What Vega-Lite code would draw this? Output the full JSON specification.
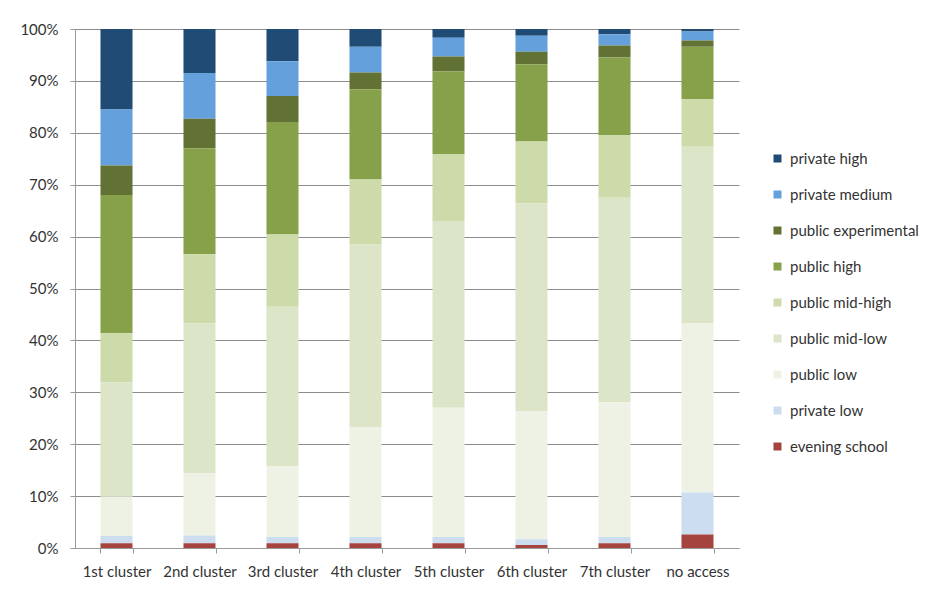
{
  "$schema": "https://vega.github.io/schema/vega-lite/v6.json",
  "width": 664,
  "height": 519,
  "autosize": {"type": "none"},
  "padding": {"left": 75, "top": 29, "right": 205, "bottom": 42},
  "background": "white",
  "data": {
    "values": [
      {"cluster": "1st cluster", "school": "private high", "share": 15.5},
      {"cluster": "1st cluster", "school": "private medium", "share": 10.8},
      {"cluster": "1st cluster", "school": "public experimental", "share": 5.7},
      {"cluster": "1st cluster", "school": "public high", "share": 26.6},
      {"cluster": "1st cluster", "school": "public mid-high", "share": 9.5},
      {"cluster": "1st cluster", "school": "public mid-low", "share": 22.0},
      {"cluster": "1st cluster", "school": "public low", "share": 7.6},
      {"cluster": "1st cluster", "school": "private low", "share": 1.4},
      {"cluster": "1st cluster", "school": "evening school", "share": 0.9},

      {"cluster": "2nd cluster", "school": "private high", "share": 8.5},
      {"cluster": "2nd cluster", "school": "private medium", "share": 8.8},
      {"cluster": "2nd cluster", "school": "public experimental", "share": 5.7},
      {"cluster": "2nd cluster", "school": "public high", "share": 20.4},
      {"cluster": "2nd cluster", "school": "public mid-high", "share": 13.3},
      {"cluster": "2nd cluster", "school": "public mid-low", "share": 28.9},
      {"cluster": "2nd cluster", "school": "public low", "share": 12.0},
      {"cluster": "2nd cluster", "school": "private low", "share": 1.5},
      {"cluster": "2nd cluster", "school": "evening school", "share": 0.9},

      {"cluster": "3rd cluster", "school": "private high", "share": 6.2},
      {"cluster": "3rd cluster", "school": "private medium", "share": 6.7},
      {"cluster": "3rd cluster", "school": "public experimental", "share": 5.0},
      {"cluster": "3rd cluster", "school": "public high", "share": 21.7},
      {"cluster": "3rd cluster", "school": "public mid-high", "share": 13.9},
      {"cluster": "3rd cluster", "school": "public mid-low", "share": 30.8},
      {"cluster": "3rd cluster", "school": "public low", "share": 13.6},
      {"cluster": "3rd cluster", "school": "private low", "share": 1.2},
      {"cluster": "3rd cluster", "school": "evening school", "share": 0.9},

      {"cluster": "4th cluster", "school": "private high", "share": 3.4},
      {"cluster": "4th cluster", "school": "private medium", "share": 5.0},
      {"cluster": "4th cluster", "school": "public experimental", "share": 3.2},
      {"cluster": "4th cluster", "school": "public high", "share": 17.4},
      {"cluster": "4th cluster", "school": "public mid-high", "share": 12.5},
      {"cluster": "4th cluster", "school": "public mid-low", "share": 35.2},
      {"cluster": "4th cluster", "school": "public low", "share": 21.2},
      {"cluster": "4th cluster", "school": "private low", "share": 1.2},
      {"cluster": "4th cluster", "school": "evening school", "share": 0.9},

      {"cluster": "5th cluster", "school": "private high", "share": 1.7},
      {"cluster": "5th cluster", "school": "private medium", "share": 3.6},
      {"cluster": "5th cluster", "school": "public experimental", "share": 2.9},
      {"cluster": "5th cluster", "school": "public high", "share": 15.9},
      {"cluster": "5th cluster", "school": "public mid-high", "share": 12.9},
      {"cluster": "5th cluster", "school": "public mid-low", "share": 36.0},
      {"cluster": "5th cluster", "school": "public low", "share": 24.9},
      {"cluster": "5th cluster", "school": "private low", "share": 1.2},
      {"cluster": "5th cluster", "school": "evening school", "share": 0.9},

      {"cluster": "6th cluster", "school": "private high", "share": 1.3},
      {"cluster": "6th cluster", "school": "private medium", "share": 3.1},
      {"cluster": "6th cluster", "school": "public experimental", "share": 2.4},
      {"cluster": "6th cluster", "school": "public high", "share": 14.9},
      {"cluster": "6th cluster", "school": "public mid-high", "share": 11.9},
      {"cluster": "6th cluster", "school": "public mid-low", "share": 40.0},
      {"cluster": "6th cluster", "school": "public low", "share": 24.7},
      {"cluster": "6th cluster", "school": "private low", "share": 1.1},
      {"cluster": "6th cluster", "school": "evening school", "share": 0.6},

      {"cluster": "7th cluster", "school": "private high", "share": 1.0},
      {"cluster": "7th cluster", "school": "private medium", "share": 2.2},
      {"cluster": "7th cluster", "school": "public experimental", "share": 2.3},
      {"cluster": "7th cluster", "school": "public high", "share": 14.9},
      {"cluster": "7th cluster", "school": "public mid-high", "share": 12.1},
      {"cluster": "7th cluster", "school": "public mid-low", "share": 39.4},
      {"cluster": "7th cluster", "school": "public low", "share": 26.0},
      {"cluster": "7th cluster", "school": "private low", "share": 1.2},
      {"cluster": "7th cluster", "school": "evening school", "share": 0.9},

      {"cluster": "no access", "school": "private high", "share": 0.5},
      {"cluster": "no access", "school": "private medium", "share": 1.7},
      {"cluster": "no access", "school": "public experimental", "share": 1.2},
      {"cluster": "no access", "school": "public high", "share": 10.1},
      {"cluster": "no access", "school": "public mid-high", "share": 9.2},
      {"cluster": "no access", "school": "public mid-low", "share": 34.0},
      {"cluster": "no access", "school": "public low", "share": 32.6},
      {"cluster": "no access", "school": "private low", "share": 8.1},
      {"cluster": "no access", "school": "evening school", "share": 2.6}
    ]
  },
  "transform": [
    {
      "calculate": "indexof(['evening school', 'private low', 'public low', 'public mid-low', 'public mid-high', 'public high', 'public experimental', 'private medium', 'private high'], datum.school)",
      "as": "stackRank"
    }
  ],
  "mark": {"type": "bar"},
  "encoding": {
    "x": {
      "field": "cluster",
      "type": "nominal",
      "sort": null,
      "scale": {"paddingInner": 0.614, "paddingOuter": 0.307},
      "axis": {
        "title": null,
        "labelAngle": 0,
        "tickBand": "extent",
        "ticks": true,
        "tickSize": 5,
        "tickColor": "#9a9a9a",
        "domainColor": "#9a9a9a",
        "labelPadding": 11,
        "grid": false
      }
    },
    "y": {
      "field": "share",
      "type": "quantitative",
      "stack": "normalize",
      "scale": {"domain": [0, 1], "nice": false},
      "axis": {
        "title": null,
        "format": ".0%",
        "values": [0, 0.1, 0.2, 0.3, 0.4, 0.5, 0.6, 0.7, 0.8, 0.9, 1.0],
        "tickSize": 5,
        "tickColor": "#9a9a9a",
        "domainColor": "#9a9a9a",
        "labelPadding": 12,
        "grid": true,
        "gridColor": "#8c8c8c",
        "gridWidth": 1
      }
    },
    "order": {"field": "stackRank", "type": "quantitative", "sort": "ascending"},
    "color": {
      "field": "school",
      "type": "nominal",
      "sort": ["private high", "private medium", "public experimental", "public high", "public mid-high", "public mid-low", "public low", "private low", "evening school"],
      "scale": {
        "domain": ["private high", "private medium", "public experimental", "public high", "public mid-high", "public mid-low", "public low", "private low", "evening school"],
        "range": ["#1f4b75", "#63a0dc", "#617234", "#87a14a", "#ccdba9", "#dde5c8", "#eef2e4", "#ccddf0", "#a5443f"]
      },
      "legend": {
        "title": null,
        "orient": "none",
        "legendX": 695,
        "legendY": 122,
        "symbolType": "square",
        "symbolSize": 64,
        "symbolStrokeWidth": 0,
        "labelFontSize": 15,
        "labelOffset": 5,
        "rowPadding": 20
      }
    }
  },
  "config": {
    "font": "Lato",
    "view": {"stroke": null},
    "axis": {"labelFontSize": 15, "labelColor": "#333333", "labelFont": "Lato"},
    "legend": {"labelColor": "#333333", "labelFont": "Lato"}
  }
}
